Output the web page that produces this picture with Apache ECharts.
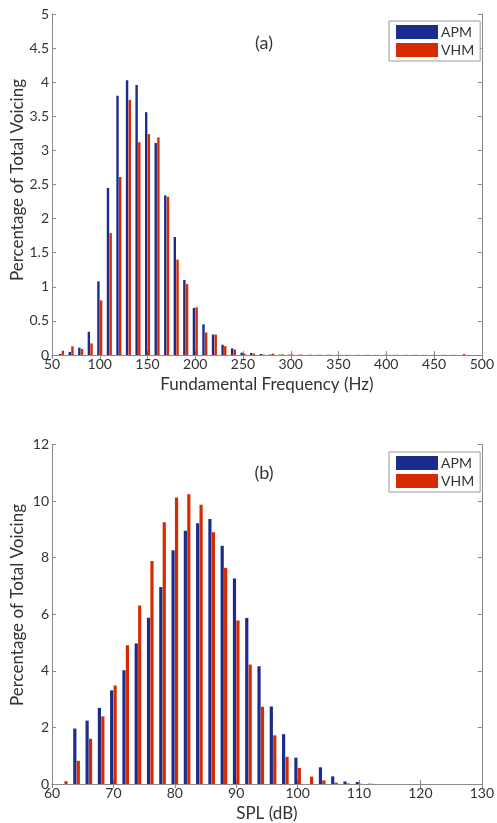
<!DOCTYPE html>
<html>
<head>
<meta charset="utf-8">
<script src="https://cdn.jsdelivr.net/npm/echarts@6/dist/echarts.min.js"></script>
<style>
html,body{margin:0;padding:0;background:#fff;}
#c{width:497px;height:823px;}
</style>
</head>
<body>
<div id="c"></div>
<script>
// (a) Fundamental frequency histogram, bin centres (Hz)
const f0Bins = [50,60,70,80,90,100,110,120,130,140,150,160,170,180,190,200,210,220,230,240,250,260,270,280,290,300,310,320,330,340,350,360,370,380,390,400,410,420,430,440,450,460,470,480,490,500];
const f0APM = [0,0.015,0.044,0.108,0.34,1.08,2.45,3.80,4.03,3.96,3.56,3.11,2.34,1.73,1.10,0.69,0.45,0.30,0.15,0.098,0.034,0.03,0.015,0.008,0.005,0.005,0.004,0.003,0.003,0.003,0.002,0.002,0.002,0.002,0.002,0.002,0.002,0.002,0.002,0.002,0.002,0.002,0.002,0,0,0];
const f0VHM = [0,0.064,0.128,0.089,0.17,0.80,1.79,2.61,3.74,3.12,3.24,3.19,2.32,1.40,1.04,0.70,0.33,0.30,0.13,0.08,0.02,0.02,0.008,0.02,0.01,0.008,0.006,0.004,0.003,0.003,0.002,0.002,0.002,0.002,0.002,0.002,0.002,0.002,0.002,0.002,0.002,0.002,0.002,0.015,0,0];

// (b) SPL histogram, bin centres (dB)
const splBins = [60,62,64,66,68,70,72,74,76,78,80,82,84,86,88,90,92,94,96,98,100,102,104,106,108,110,112,114,116,118,120,122,124,126,128,130];
const splAPM = [0,0,1.96,2.24,2.69,3.31,4.02,4.97,5.88,6.96,8.26,8.95,9.22,9.37,8.42,7.26,5.87,4.16,2.74,1.76,0.93,0,0.59,0.27,0.09,0.07,0.01,0,0,0,0,0,0,0,0,0];
const splVHM = [0,0.1,0.82,1.60,2.39,3.48,4.90,6.31,7.88,9.25,10.13,10.24,9.87,8.90,7.64,5.78,4.22,2.73,1.72,0.96,0.57,0.26,0.13,0.05,0.02,0.01,0.005,0,0,0,0,0,0,0,0,0];

const seriesNames = ['APM','VHM'];
const BLUE = '#1b2c8c';
const RED = '#d62a00';
const AX = '#8a8a8a';
const TXT = '#333333';
const FONT = 'Lato';

const chart = echarts.init(document.getElementById('c'), null, {renderer:'canvas'});

function xAxes(cats, gridIndex, name, nameGap){
  return [
    {type:'category', gridIndex, data:cats, boundaryGap:false, position:'bottom',
     axisLine:{lineStyle:{color:AX,width:1}},
     axisTick:{inside:true,length:4,interval:4,lineStyle:{color:AX}},
     axisLabel:{interval:4,color:TXT,fontSize:14,fontFamily:FONT,margin:2},
     name, nameLocation:'middle', nameGap,
     nameTextStyle:{color:TXT,fontSize:17,fontFamily:FONT}},
    {type:'category', gridIndex, data:cats, boundaryGap:false, position:'top',
     axisLine:{lineStyle:{color:AX,width:1}},
     axisTick:{inside:true,length:4,interval:4,lineStyle:{color:AX}},
     axisLabel:{show:false}}
  ];
}
function yAxes(gridIndex, max, interval){
  return [
    {type:'value', gridIndex, min:0, max, interval, position:'left',
     splitLine:{show:false},
     axisLine:{show:true,lineStyle:{color:AX,width:1}},
     axisTick:{show:true,inside:true,length:4,lineStyle:{color:AX}},
     axisLabel:{color:TXT,fontSize:14,fontFamily:FONT,margin:3}},
    {type:'value', gridIndex, min:0, max, interval, position:'right',
     splitLine:{show:false},
     axisLine:{show:true,lineStyle:{color:AX,width:1}},
     axisTick:{show:true,inside:true,length:4,lineStyle:{color:AX}},
     axisLabel:{show:false}}
  ];
}
function legend(top){
  return {data:seriesNames, orient:'vertical', left:389, top, icon:'rect',
    itemWidth:42, itemHeight:14, itemGap:4, padding:[4,6,4,7],
    borderColor:'#999', borderWidth:1, backgroundColor:'#fff',
    selectedMode:false,
    textStyle:{color:TXT,fontSize:14,fontFamily:FONT,padding:[0,0,0,-2]}};
}
function bar(name, data, xi, yi, color, w, gap){
  return {type:'bar', name, data, xAxisIndex:xi, yAxisIndex:yi,
    barWidth:w, barGap:gap, itemStyle:{color}, animation:false, silent:true};
}

const option = {
  animation:false,
  grid:[
    {left:52, top:14, width:433, height:341},
    {left:52, top:444.5, width:433, height:342.2}
  ],
  xAxis:[...xAxes(f0Bins,0,'Fundamental Frequency (Hz)',21), ...xAxes(splBins,1,'SPL (dB)',21)],
  yAxis:[...yAxes(0,5,0.5), ...yAxes(1,12,2)],
  legend:[legend(21), legend(452)],
  series:[
    bar(seriesNames[0], f0APM, 0, 0, BLUE, 2.4, '12%'),
    bar(seriesNames[1], f0VHM, 0, 0, RED, 2.4, '12%'),
    bar(seriesNames[0], splAPM, 2, 2, BLUE, 3.2, '8%'),
    bar(seriesNames[1], splVHM, 2, 2, RED, 3.2, '8%')
  ],
  graphic:[
    {type:'text', x:264, y:43, style:{text:'(a)', fill:TXT, font:'18px '+FONT, textAlign:'center', textVerticalAlign:'middle'}},
    {type:'text', x:264, y:473, style:{text:'(b)', fill:TXT, font:'18px '+FONT, textAlign:'center', textVerticalAlign:'middle'}},
    {type:'text', x:18, y:180, rotation:Math.PI/2, style:{text:'Percentage of Total Voicing', fill:TXT, font:'17px '+FONT, textAlign:'center', textVerticalAlign:'middle'}},
    {type:'text', x:18, y:605, rotation:Math.PI/2, style:{text:'Percentage of Total Voicing', fill:TXT, font:'17px '+FONT, textAlign:'center', textVerticalAlign:'middle'}}
  ]
};
chart.setOption(option);
</script>
</body>
</html>
